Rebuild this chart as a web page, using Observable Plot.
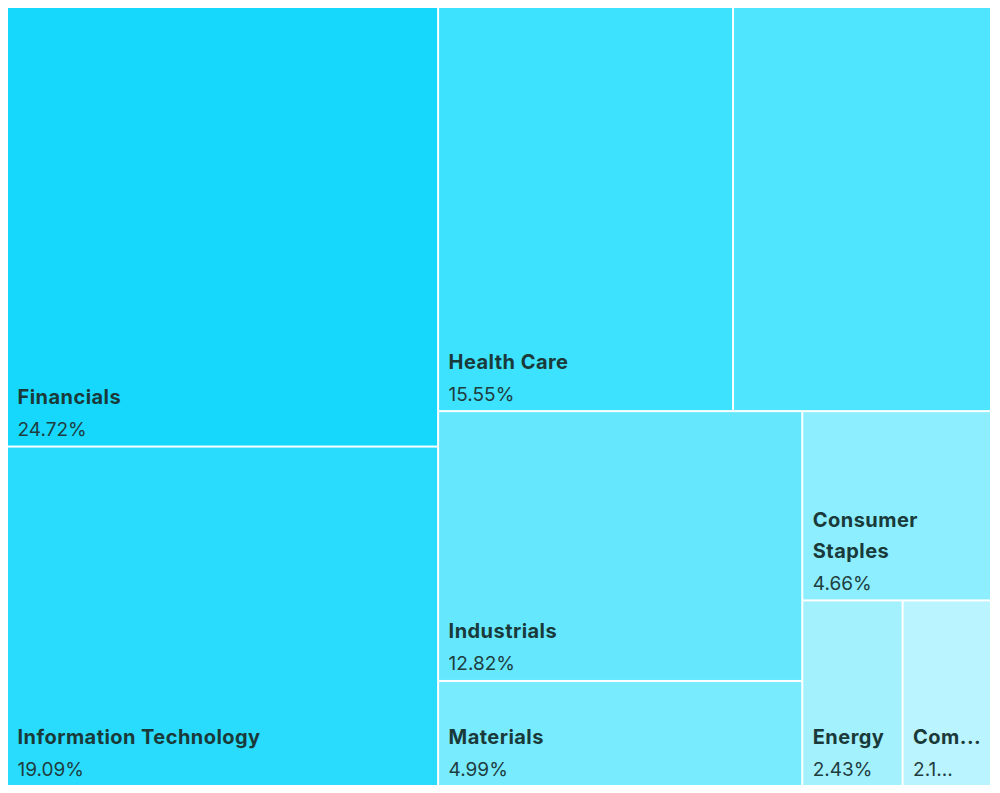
<!DOCTYPE html>
<html>
<head>
<meta charset="utf-8">
<script src="https://cdn.jsdelivr.net/npm/d3@7"></script>
<script src="https://cdn.jsdelivr.net/npm/@observablehq/plot@0.6"></script>
<style>
  html, body { margin: 0; padding: 0; background: #ffffff; }
  #chart svg { display: block; font-family: Inter, "Noto Sans", sans-serif; }
  #chart svg g[font-weight="700"] text { letter-spacing: 0.45px; }
</style>
</head>
<body>
<div id="chart"></div>
<script>
// ---- data ----
const sectors = ["Financials", "Information Technology", "Health Care", "Consumer Discretionary",
                 "Industrials", "Materials", "Consumer Staples", "Energy", "Communication Services"];
const weights = [24.72, 19.09, 15.55, 13.60, 12.82, 4.99, 4.66, 2.43, 2.14];
const showLabel = [true, true, true, false, true, true, true, true, true];
const colors = ["#16d8fd", "#29dcfd", "#3ce2fe", "#50e5fe", "#65e8fe", "#79ebfe", "#8ceefe", "#a4f1fe", "#baf4fe"];

const W = 982, H = 777;
const FONT = 'Inter, "Noto Sans", sans-serif';
const NAME_SIZE = 20, PCT_SIZE = 19, LS = 0.45, PAD = 9;

// squarified tiling (golden ratio), with a slight preference for horizontal rows
function squarifyTile(ratio, bias) {
  return function(parent, x0, y0, x1, y1) {
    const nodes = parent.children;
    let i0 = 0, i1 = 0, n = nodes.length, value = parent.value;
    while (i0 < n) {
      const dx = x1 - x0, dy = y1 - y0;
      let sumValue, nodeValue;
      do sumValue = nodes[i1++].value; while (!sumValue && i1 < n);
      let minValue = sumValue, maxValue = sumValue;
      const alpha = Math.max(dy / dx, dx / dy) / (value * ratio);
      let beta = sumValue * sumValue * alpha;
      let minRatio = Math.max(maxValue / beta, beta / minValue);
      for (; i1 < n; ++i1) {
        sumValue += nodeValue = nodes[i1].value;
        if (nodeValue < minValue) minValue = nodeValue;
        if (nodeValue > maxValue) maxValue = nodeValue;
        beta = sumValue * sumValue * alpha;
        const newRatio = Math.max(maxValue / beta, beta / minValue);
        if (newRatio > minRatio) { sumValue -= nodeValue; break; }
        minRatio = newRatio;
      }
      const row = {value: sumValue, children: nodes.slice(i0, i1)};
      if (dx < dy * bias) d3.treemapDice(row, x0, y0, x1, value ? y0 += dy * sumValue / value : y1);
      else d3.treemapSlice(row, x0, y0, value ? x0 += dx * sumValue / value : x1, y1);
      value -= sumValue; i0 = i1;
    }
  };
}

const table = sectors.map((name, i) => ({name, value: weights[i], color: colors[i], show: showLabel[i]}));
const root = d3.hierarchy({children: table}).sum(d => d.value || 0).sort((a, b) => b.value - a.value);
d3.treemap().tile(squarifyTile((1 + Math.sqrt(5)) / 2, 1.05)).size([W, H]).paddingInner(2)(root);

// text fitting: wrap on words, truncate a word that does not fit
const ctx = document.createElement("canvas").getContext("2d");
function measure(t) { ctx.font = `700 ${NAME_SIZE}px ${FONT}`; return ctx.measureText(t).width + LS * t.length; }

const leaves = root.leaves().map(n => {
  const d = n.data;
  const avail = (n.x1 - n.x0) - PAD - 3;
  const pct = d.value.toFixed(2) + "%";
  let nameText = "", pctText = "";
  if (d.show) {
    const words = d.name.split(" ");
    const lines = [];
    let cur = "", truncated = -1;
    for (const w of words) {
      const trial = cur ? cur + " " + w : w;
      if (measure(trial) <= avail) { cur = trial; continue; }
      if (cur) lines.push(cur);
      cur = w;
      if (measure(cur) > avail) {
        let k = cur.length;
        while (k > 1 && measure(cur.slice(0, k) + "...") > avail) k--;
        cur = cur.slice(0, k) + "...";
        truncated = k;
        break;
      }
    }
    lines.push(cur);
    nameText = lines.join("\n");
    pctText = truncated > 0 ? pct.slice(0, truncated) + "..." : pct;
  }
  return {name: d.name, color: d.color, x0: n.x0, x1: n.x1, y0: n.y0, y1: n.y1, nameText, pctText};
});

const chart = Plot.plot({
  width: 1000,
  height: 793,
  margin: 0,
  x: {domain: [0, W], range: [8, 990], axis: null},
  y: {domain: [0, H], range: [8, 785], axis: null},
  color: {type: "identity"},
  style: {background: "#ffffff", fontFamily: FONT},
  marks: [
    Plot.rect(leaves, {x1: "x0", x2: "x1", y1: "y0", y2: "y1", fill: "color"}),
    Plot.text(leaves, {
      x: "x0", y: "y1", text: "nameText", dx: PAD, dy: -42,
      textAnchor: "start", lineAnchor: "bottom", lineHeight: 31 / NAME_SIZE,
      fontSize: NAME_SIZE, fontWeight: 700, fill: "#1a3a3a"
    }),
    Plot.text(leaves, {
      x: "x0", y: "y1", text: "pctText", dx: PAD, dy: -10,
      textAnchor: "start", lineAnchor: "bottom",
      fontSize: PCT_SIZE, fontWeight: 400, fill: "#1f3d3e"
    })
  ]
});
document.getElementById("chart").appendChild(chart);
</script>
</body>
</html>
